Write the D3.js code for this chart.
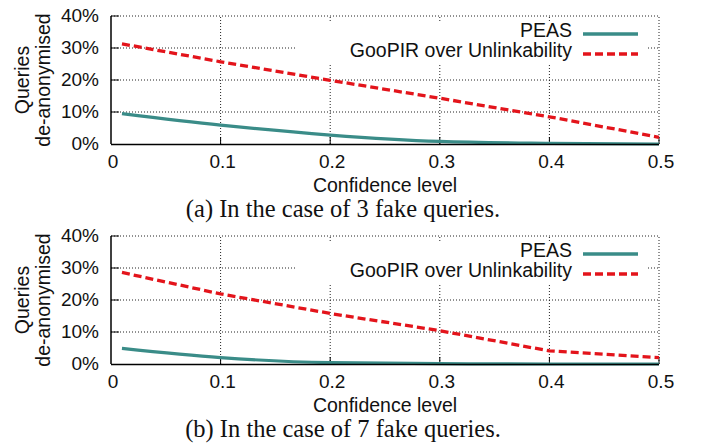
<!DOCTYPE html>
<html>
<head>
<meta charset="utf-8">
<script src="https://cdn.jsdelivr.net/npm/d3@7"></script>
<style>
  body { margin: 0; background: #fff; }
  svg { display: block; }
  .sans { font-family: "Liberation Sans", Arial, Helvetica, sans-serif; fill: #111; }
  .serif { font-family: "Liberation Serif", "Times New Roman", serif; fill: #111; }
</style>
</head>
<body>
<div id="chart"></div>
<script>
// x values (confidence level)
var xValues = [0.01, 0.1, 0.2, 0.3, 0.4, 0.5];

// panel (a): 3 fake queries, % de-anonymised
var peasA = [9.5, 5.9, 2.8, 0.8, 0.2, 0.0];
var goopirA = [31.3, 25.7, 19.9, 14.3, 8.5, 2.1];

// panel (b): 7 fake queries
var peasB = [4.9, 2.0, 0.4, 0.1, 0.0, 0.0];
var goopirB = [28.6, 21.9, 15.8, 10.4, 4.1, 2.0];

var xTicks = [0, 0.1, 0.2, 0.3, 0.4, 0.5];
var xTickLabels = ['0', '0.1', '0.2', '0.3', '0.4', '0.5'];
var yTicks = [0, 10, 20, 30, 40];
var yTickLabels = ['0%', '10%', '20%', '30%', '40%'];

var seriesNames = ['PEAS', 'GooPIR over Unlinkability'];
var captions = ['(a) In the case of 3 fake queries.', '(b) In the case of 7 fake queries.'];

var width = 702, height = 447;
var teal = '#3a8c88', red = '#e3141b';

var svg = d3.select('#chart').append('svg')
  .attr('width', width)
  .attr('height', height);

var x = d3.scaleLinear().domain([0, 0.5]).range([111, 659]);

function panel(offsetY, peas, goopir, caption) {
  var g = svg.append('g').attr('transform', 'translate(0,' + offsetY + ')');
  var y = d3.scaleLinear().domain([0, 40]).range([144, 16]);

  // dotted grid
  g.selectAll('.hgrid').data(yTicks.slice(1)).enter().append('line')
    .attr('x1', x(0)).attr('x2', x(0.5))
    .attr('y1', function (d) { return y(d); })
    .attr('y2', function (d) { return y(d); })
    .attr('stroke', '#222').attr('stroke-width', 1)
    .attr('stroke-dasharray', '1,2');
  g.selectAll('.vgrid').data(xTicks.slice(1)).enter().append('line')
    .attr('x1', function (d) { return x(d); })
    .attr('x2', function (d) { return x(d); })
    .attr('y1', y(0)).attr('y2', y(40))
    .attr('stroke', '#222').attr('stroke-width', 1)
    .attr('stroke-dasharray', '1,2');

  // inward ticks
  g.selectAll('.xtick').data(xTicks.slice(1)).enter().append('line')
    .attr('x1', function (d) { return x(d); })
    .attr('x2', function (d) { return x(d); })
    .attr('y1', y(0)).attr('y2', y(0) - 7)
    .attr('stroke', '#000').attr('stroke-width', 1);
  g.selectAll('.ytick').data(yTicks.slice(1)).enter().append('line')
    .attr('x1', x(0)).attr('x2', x(0) + 8)
    .attr('y1', function (d) { return y(d); })
    .attr('y2', function (d) { return y(d); })
    .attr('stroke', '#000').attr('stroke-width', 1);

  // legend box covers grid
  g.append('rect')
    .attr('x', 297).attr('y', 22)
    .attr('width', 349).attr('height', 43)
    .attr('fill', '#fff');

  var line = d3.line()
    .x(function (d, i) { return x(xValues[i]); })
    .y(function (d) { return y(d); });

  // axes
  g.append('line').attr('x1', x(0)).attr('x2', x(0))
    .attr('y1', y(0)).attr('y2', y(40))
    .attr('stroke', '#000').attr('stroke-width', 1.5);

  g.append('path').datum(peas)
    .attr('d', line.curve(d3.curveMonotoneX))
    .attr('fill', 'none').attr('stroke', teal).attr('stroke-width', 3.2);

  g.append('line').attr('x1', x(0)).attr('x2', x(0.5))
    .attr('y1', y(0) + 0.5).attr('y2', y(0) + 0.5)
    .attr('stroke', '#000').attr('stroke-width', 1.3);

  g.append('path').datum(goopir)
    .attr('d', line.curve(d3.curveLinear))
    .attr('fill', 'none').attr('stroke', red).attr('stroke-width', 3.3)
    .attr('stroke-dasharray', '8,4');

  // tick labels
  g.selectAll('.xl').data(xTicks).enter().append('text')
    .attr('class', 'sans')
    .attr('x', function (d) { return x(d) + 2; })
    .attr('y', 168)
    .attr('text-anchor', 'middle')
    .attr('font-size', 19)
    .text(function (d, i) { return xTickLabels[i]; });
  g.selectAll('.yl').data(yTicks).enter().append('text')
    .attr('class', 'sans')
    .attr('x', 99)
    .attr('y', function (d) { return y(d) + 6; })
    .attr('text-anchor', 'end')
    .attr('font-size', 19)
    .text(function (d, i) { return yTickLabels[i]; });

  // axis titles
  var yl = g.append('text').attr('class', 'sans')
    .attr('transform', 'translate(0,80) rotate(-90)')
    .attr('text-anchor', 'middle')
    .attr('font-size', 19.5);
  yl.append('tspan').attr('x', 0).attr('y', 29).text('Queries');
  yl.append('tspan').attr('x', 0).attr('y', 50).text('de-anonymised');

  g.append('text').attr('class', 'sans')
    .attr('x', 385).attr('y', 192)
    .attr('text-anchor', 'middle')
    .attr('font-size', 19.5)
    .text('Confidence level');

  // legend
  var leg = [
    { name: seriesNames[0], color: teal, dash: null, y: 34 },
    { name: seriesNames[1], color: red, dash: '8,4', y: 54 }
  ];
  leg.forEach(function (l) {
    g.append('text').attr('class', 'sans')
      .attr('x', 572).attr('y', l.y + 3)
      .attr('text-anchor', 'end')
      .attr('font-size', 19.5)
      .text(l.name);
    g.append('line')
      .attr('x1', 583).attr('x2', 638)
      .attr('y1', l.y).attr('y2', l.y)
      .attr('stroke', l.color).attr('stroke-width', 3.3)
      .attr('stroke-dasharray', l.dash);
  });

  // caption
  g.append('text').attr('class', 'serif')
    .attr('x', 343).attr('y', 217)
    .attr('text-anchor', 'middle')
    .attr('font-size', 24.5)
    .text(caption);
}

panel(0, peasA, goopirA, captions[0]);
panel(220, peasB, goopirB, captions[1]);
</script>
</body>
</html>
